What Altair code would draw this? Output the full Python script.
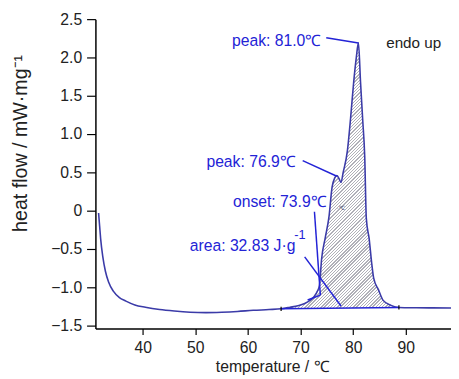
import altair as alt
import pandas as pd
import numpy as np

# ---- DSC curve (temperature / degC, heat flow / mW mg-1) ----
temperature = [31.6, 31.8, 32.0, 32.4, 32.9, 33.5, 34.4, 35.5, 36.8, 38.5, 40.5, 43.2,
               46.0, 49.0, 52.0, 55.0, 58.0, 61.0, 64.0, 66.3, 68.0, 69.5, 70.8, 71.8,
               72.6, 73.2, 73.6, 74.0, 74.7, 75.4, 76.0, 76.5, 76.9, 77.3, 77.7, 78.1,
               78.9, 79.5, 80.1, 80.6, 81.0, 81.4, 81.8, 82.2, 82.5, 83.05, 83.5, 83.9,
               84.8, 85.7, 87.2, 88.7, 92.0, 95.0, 98.6]
heat_flow = [-0.03, -0.20, -0.37, -0.60, -0.79, -0.93, -1.05, -1.13, -1.18, -1.23, -1.26, -1.29,
             -1.31, -1.325, -1.33, -1.325, -1.315, -1.30, -1.29, -1.28, -1.26, -1.24, -1.21, -1.17,
             -1.12, -1.05, -0.97, -0.63, -0.35, -0.08, 0.31, 0.43, 0.46, 0.42, 0.37, 0.50,
             0.78, 1.20, 1.68, 2.00, 2.19, 1.68, 1.20, 0.70, -0.10, -0.37, -0.67, -0.88,
             -1.03, -1.17, -1.235, -1.262, -1.266, -1.268, -1.27]

# integration baseline end points
base_T = [66.3, 88.7]
base_HF = [-1.28, -1.262]

# construction / pointer lines (x, y, x2, y2)
seg_x1 = [74.88, 70.40, 72.64, 73.76, 70.78]
seg_y1 = [2.256, 0.654, -0.013, -1.102, -0.602]
seg_x2 = [81.0, 76.9, 73.76, 71.34, 77.69]
seg_y2 = [2.19, 0.45, -1.102, -1.166, -1.243]

# annotation texts
ann_text = ["peak: 81.0℃", "peak: 76.9℃", "onset: 73.9℃", "area: 32.83 J·g"]
ann_x = [56.96, 52.10, 57.14, 48.93]
ann_y = [2.154, 0.564, 0.052, -0.525]

x_ticks = [40, 50, 60, 70, 80, 90]
y_ticks = [-1.5, -1.0, -0.5, 0, 0.5, 1.0, 1.5, 2.0, 2.5]

XDOM = [31, 98.6]
YDOM = [-1.538, 2.5]
W, H = 362, 315

curve = pd.DataFrame({"T": temperature, "HF": heat_flow})
mask = (curve["T"] >= base_T[0]) & (curve["T"] <= base_T[1])
area_df = curve[mask].copy()
area_df["BL"] = np.interp(area_df["T"], base_T, base_HF)

# hatch via striped linear gradient (objectBoundingBox units)
pxw = (area_df["T"].max() - area_df["T"].min()) * W / (XDOM[1] - XDOM[0])
pxh = (area_df["HF"].max() - area_df["BL"].min()) * H / (YDOM[1] - YDOM[0])
c = (1 / pxh + 1 / pxw) / (1 / pxh ** 2 + 1 / pxw ** 2)
gx2, gy2 = c / pxh, c / pxw
span = (pxw + pxh) / np.sqrt(2)
n = int(span / 2.3)
stops = []
for i in range(n):
    a = i / n
    b = (i + 0.4) / n
    e = (i + 1) / n
    stops += [alt.GradientStop(offset=a, color="#b0b0b8"),
              alt.GradientStop(offset=b, color="#b0b0b8"),
              alt.GradientStop(offset=b, color="#ffffff"),
              alt.GradientStop(offset=e, color="#ffffff")]
hatch = alt.Gradient(gradient="linear", stops=stops, x1=0, y1=0, x2=gx2, y2=gy2)

FONT = "Liberation Sans"
BLUE = "#2323d6"
NAVY = "#3b3ba8"

xs = alt.Scale(domain=XDOM, nice=False, zero=False)
ys = alt.Scale(domain=YDOM, nice=False, zero=False)

xaxis = alt.Axis(values=x_ticks, title="temperature / ℃", grid=False, tickSize=6,
                 tickCount=20,
                 labelPadding=5, labelFontSize=16, titleFontSize=16, titleFontWeight="normal",
                 labelFont=FONT, titleFont=FONT, labelColor="#222222", titleColor="#222222",
                 domainColor="#000000", tickColor="#000000", domainWidth=1.5, tickWidth=1.2,
                 labelOverlap=False, labelFlush=False,
                 titleX=180, titleY=44, titleBaseline="alphabetic", titleAlign="center")
yaxis = alt.Axis(values=y_ticks, title="heat flow / mW·mg⁻¹", grid=False, tickSize=9,
                 tickCount=20,
                 labelPadding=5, labelFontSize=16, titleFontSize=20, titleFontWeight="normal",
                 labelFont=FONT, titleFont=FONT, labelColor="#222222", titleColor="#222222",
                 domainColor="#000000", tickColor="#000000", domainWidth=1.5, tickWidth=1.2,
                 labelOverlap=False, labelFlush=False,
                 labelExpr="datum.value == 0 ? '0' : format(datum.value, '.1f')",
                 titleX=-70, titleY=126, titleBaseline="alphabetic", titleAlign="center",
                 titleAngle=270)

area = alt.Chart(area_df).mark_area(color=hatch, interpolate="monotone").encode(
    x=alt.X("T:Q", scale=xs, axis=xaxis),
    y=alt.Y("HF:Q", scale=ys, axis=yaxis),
    y2="BL:Q",
)

line = alt.Chart(curve).mark_line(color=NAVY, strokeWidth=1.6, interpolate="monotone").encode(
    x=alt.X("T:Q", scale=xs), y=alt.Y("HF:Q", scale=ys), order="T:Q")

base_df = pd.DataFrame({"T": base_T, "HF": base_HF})
baseline = alt.Chart(base_df).mark_line(color=BLUE, strokeWidth=1.5).encode(
    x=alt.X("T:Q", scale=xs), y=alt.Y("HF:Q", scale=ys))
markers = alt.Chart(base_df).mark_point(shape="M0,-1L0,1", size=18, color="#000000",
                                        strokeWidth=1.2, opacity=1).encode(
    x=alt.X("T:Q", scale=xs), y=alt.Y("HF:Q", scale=ys))

seg_df = pd.DataFrame({"T": seg_x1, "HF": seg_y1, "x2": seg_x2, "y2": seg_y2})
segs = alt.Chart(seg_df).mark_rule(color=BLUE, strokeWidth=1.5).encode(
    x=alt.X("T:Q", scale=xs), y=alt.Y("HF:Q", scale=ys), x2="x2:Q", y2="y2:Q")

ann_df = pd.DataFrame({"t": ann_text, "T": ann_x, "HF": ann_y})
texts = alt.Chart(ann_df).mark_text(align="left", baseline="alphabetic", fontSize=16,
                                    font=FONT, color=BLUE).encode(
    x=alt.X("T:Q", scale=xs), y=alt.Y("HF:Q", scale=ys), text="t:N")

sup_df = pd.DataFrame({"t": ["-1"], "T": [68.8], "HF": [-0.37]})
sup = alt.Chart(sup_df).mark_text(align="left", baseline="alphabetic", fontSize=13,
                                  font=FONT, color=BLUE).encode(
    x=alt.X("T:Q", scale=xs), y=alt.Y("HF:Q", scale=ys), text="t:N")

endo_df = pd.DataFrame({"t": ["endo up"], "T": [86.28], "HF": [2.128]})
endo = alt.Chart(endo_df).mark_text(align="left", baseline="alphabetic", fontSize=15.5,
                                    font=FONT, color="#222222").encode(
    x=alt.X("T:Q", scale=xs), y=alt.Y("HF:Q", scale=ys), text="t:N")

tiny_df = pd.DataFrame({"t": ["·℃"], "T": [76.9], "HF": [0.03]})
tiny = alt.Chart(tiny_df).mark_text(align="left", baseline="middle", fontSize=6,
                                    font=FONT, color="#333366").encode(
    x=alt.X("T:Q", scale=xs), y=alt.Y("HF:Q", scale=ys), text="t:N")

chart = alt.layer(area, line, baseline, segs, markers, texts, sup, endo, tiny).properties(
    width=W, height=H,
    autosize=alt.AutoSizeParams(type="none"),
    padding={"left": 89, "top": 8, "right": 0, "bottom": 48},
    background="#ffffff",
).configure_view(stroke=None).configure_axis(labelOverlap=False)

chart.save("out.html", embed_options={"renderer": "svg", "actions": False})
